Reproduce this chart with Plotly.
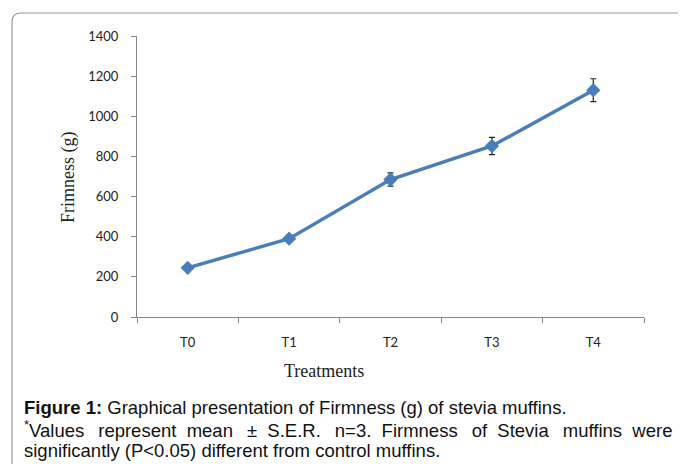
import plotly.graph_objects as go

treatments = ["T0", "T1", "T2", "T3", "T4"]
firmness = [245, 390, 685, 852, 1130]
ser = [12, 15, 33, 43, 57]
y_ticks = [0, 200, 400, 600, 800, 1000, 1200, 1400]

W, H = 686, 464
OFF = 8  # page body margin
# desired page-pixel geometry of plot area
PL, PR, PT, PB = 137, 644, 36, 317
L, T = PL - OFF, PT - OFF
R = W - (PR - OFF)
B = H - (PB - OFF)
pw, ph = PR - PL, PB - PT

def px(x):
    return (x - PL) / pw

def py(y):
    return (PB - y) / ph

fig = go.Figure()
fig.add_trace(go.Scatter(
    x=treatments, y=firmness,
    mode="lines+markers",
    line=dict(color="#4a7ebb", width=3.5),
    marker=dict(symbol="diamond", size=11, color="#4a7ebb"),
    error_y=dict(type="data", array=ser, color="#222222", thickness=1.2, width=3),
    showlegend=False,
))

axis_col = "#868686"
tick_font = dict(family="Lato, Noto Sans, sans-serif", size=13, color="#222")
fig.update_layout(
    width=W, height=H,
    margin=dict(l=L, r=R, t=T, b=B, pad=0),
    paper_bgcolor="white", plot_bgcolor="white",
    xaxis=dict(
        type="category", range=[-0.5, 4.5],
        showline=True, linecolor=axis_col, linewidth=1,
        ticks="outside", tickson="boundaries", ticklen=5, tickcolor=axis_col,
        showgrid=False, zeroline=False,
        tickfont=tick_font,
        ticklabelstandoff=13,
    ),
    yaxis=dict(
        range=[0, 1400], tickvals=y_ticks,
        showline=True, linecolor=axis_col, linewidth=1,
        ticks="outside", ticklen=5, tickcolor=axis_col,
        showgrid=False, zeroline=False,
        tickfont=tick_font,
        ticklabelstandoff=10,
    ),
)

serif = dict(family="Liberation Serif, Times New Roman, serif", size=18, color="#222")
# axis titles
fig.add_annotation(text="Frimness (g)", xref="paper", yref="paper",
                   x=px(68), y=py(177), textangle=-90, showarrow=False,
                   xanchor="center", yanchor="middle", font=serif)
fig.add_annotation(text="Treatments", xref="paper", yref="paper",
                   x=px(324), y=py(371), showarrow=False,
                   xanchor="center", yanchor="middle", font=serif)

# caption
cap_font = dict(family="Liberation Sans, Arial, sans-serif", size=18.5, color="#111")
nb = "\u00a0"
words2 = ["Values", "represent", "mean", "±", "S.E.R.", "n=3.", "Firmness",
          "of", "Stevia", "muffins", "were"]
line2 = "<sup>*</sup>" + words2[0]
for i, w in enumerate(words2[1:]):
    line2 += nb * 2 + ("\u2009" if i % 2 == 0 else "") + w
captions = [
    ("<b>Figure 1:</b> Graphical presentation of Firmness (g) of stevia muffins.", 407),
    (line2, 429),
    ("significantly (P<0.05) different from control muffins.", 450),
]
for txt, yy in captions:
    fig.add_annotation(text=txt, xref="paper", yref="paper", x=px(22), y=py(yy),
                       xanchor="left", yanchor="middle", showarrow=False, font=cap_font)

# rounded border
x0, yt = px(12), py(13)
x1, yb = px(720), py(500)
rx, ry = 9 / pw, 9 / ph
path = (f"M {x0},{yb} L {x0},{yt - ry} Q {x0},{yt} {x0 + rx},{yt} L {x1},{yt}")
fig.add_shape(type="path", path=path, xref="paper", yref="paper",
              line=dict(color="#999999", width=1.2), layer="below")

fig.write_html("out.html")
